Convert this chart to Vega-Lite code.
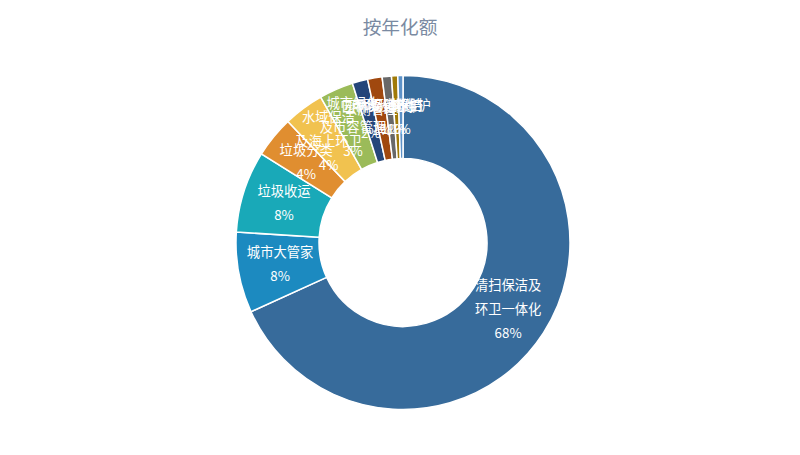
{
  "$schema": "https://vega.github.io/schema/vega-lite/v6.json",
  "description": "按年化额 donut chart",
  "width": 800,
  "height": 455,
  "autosize": {"type": "none"},
  "padding": 0,
  "background": "white",
  "config": {"view": {"stroke": "#d9d9d9", "strokeWidth": 1}},
  "title": {
    "text": "按年化额",
    "font": "Noto Sans CJK SC",
    "fontSize": 18.7,
    "fontWeight": "normal",
    "color": "#7a8aa2",
    "anchor": "middle",
    "dy": 42
  },
  "data": {
    "values": [
      {"name": "清扫保洁及\n环卫一体化", "share": 68.2},
      {"name": "城市大管家", "share": 7.8},
      {"name": "垃圾收运", "share": 7.9},
      {"name": "垃圾分类", "share": 4.0},
      {"name": "水域保洁\n及海上环卫", "share": 3.9},
      {"name": "城市绿化\n及市容管理", "share": 3.3},
      {"name": "公厕管理", "share": 1.5},
      {"name": "园林绿化养护", "share": 1.4},
      {"name": "市政设施维护", "share": 0.9},
      {"name": "河道保洁", "share": 0.6},
      {"name": "其他", "share": 0.5}
    ]
  },
  "transform": [
    {"window": [{"op": "row_number", "as": "idx"}]},
    {"calculate": "datum.name + '\\n' + format(datum.share / 100, '.0%')", "as": "label"}
  ],
  "encoding": {
    "theta": {"field": "share", "type": "quantitative", "stack": true},
    "order": {"field": "idx", "type": "quantitative"}
  },
  "layer": [
    {
      "mark": {
        "type": "arc",
        "innerRadius": 84,
        "outerRadius": 167,
        "stroke": "white",
        "strokeWidth": 1.5,
        "xOffset": 3,
        "yOffset": 15
      },
      "encoding": {
        "color": {
          "field": "name",
          "type": "nominal",
          "sort": null,
          "scale": {
            "domain": ["清扫保洁及\n环卫一体化", "城市大管家", "垃圾收运", "垃圾分类", "水域保洁\n及海上环卫", "城市绿化\n及市容管理", "公厕管理", "园林绿化养护", "市政设施维护", "河道保洁", "其他"],
            "range": ["#376b9b", "#1c8ac0", "#19a9b8", "#e08e30", "#f1c24f", "#9bbb59", "#25467a", "#a0480f", "#686868", "#a07a08", "#5d92c8"]
          },
          "legend": null
        }
      }
    },
    {
      "mark": {
        "type": "text",
        "radius": 125,
        "xOffset": 3,
        "yOffset": 15,
        "dy": {"expr": "-(length(split(datum.label, '\\n')) - 1) * 12"},
        "fill": "white",
        "font": "Noto Sans CJK SC",
        "fontSize": 13.3,
        "lineBreak": "\n",
        "lineHeight": 24,
        "align": "center",
        "baseline": "middle"
      },
      "encoding": {
        "detail": {"field": "name", "type": "nominal"},
        "text": {"field": "label", "type": "nominal"}
      }
    }
  ]
}
